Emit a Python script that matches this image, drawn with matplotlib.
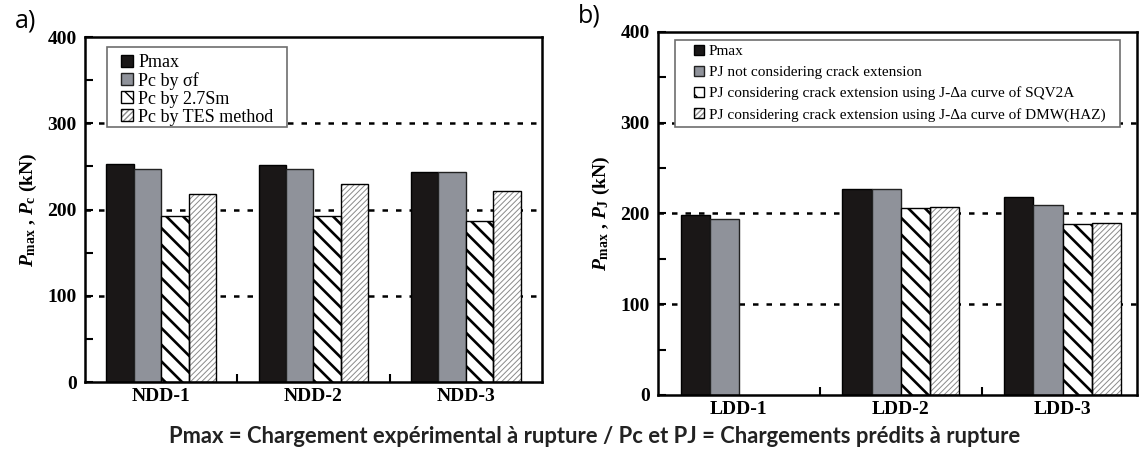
import numpy as np
import matplotlib
matplotlib.use('Agg')
from matplotlib import pyplot as plt
from matplotlib.patches import Rectangle
from matplotlib.legend_handler import HandlerTuple

plt.rcParams['font.family'] = 'Liberation Serif'
plt.rcParams['mathtext.fontset'] = 'custom'
plt.rcParams['mathtext.rm'] = 'Liberation Serif:bold'
plt.rcParams['mathtext.it'] = 'Liberation Serif:italic:bold'
plt.rcParams['mathtext.bf'] = 'Liberation Serif:bold'

# data (kN)
ndd_names = ['NDD-1', 'NDD-2', 'NDD-3']
ndd_pmax = [253, 252, 243]
ndd_pc_sf = [247, 247, 244]
ndd_pc_27sm = [192, 192, 187]
ndd_pc_tes = [218, 230, 222]
ndd_labels = ['Pmax', 'Pc by σf', 'Pc by 2.7Sm', 'Pc by TES method']

ldd_names = ['LDD-1', 'LDD-2', 'LDD-3']
ldd_pmax = [198, 227, 218]
ldd_pj_not = [194, 227, 209]
ldd_pj_sqv2a = [np.nan, 206, 188]
ldd_pj_dmw = [np.nan, 207, 190]
ldd_labels = ['Pmax', 'PJ not considering crack extension',
              'PJ considering crack extension using J-Δa curve of SQV2A',
              'PJ considering crack extension using J-Δa curve of DMW(HAZ)']

yticks = [0, 100, 200, 300, 400]

W = 0.18
BLACK = '#1a1717'
GRAY = '#8f929a'


def hatched(ax, x, h, hatch, color, lw):
    b = ax.bar(x, h, W, color='white', edgecolor=color, linewidth=0, hatch=hatch, zorder=2)
    for p in b:
        try:
            p.set_hatch_linewidth(lw)
        except AttributeError:
            pass
    o = ax.bar(x, h, W, color='none', edgecolor='black', linewidth=1.0, zorder=3)
    return b, o


def panel(ax, names, s1, s2, s3, s4, labels, xmax, ylab, box, legkw):
    x = np.arange(len(names))
    for g in [100, 200, 300]:
        ax.axhline(g, color='black', lw=1.8, ls=(0, (2.2, 3.2)), zorder=0)
    h1 = ax.bar(x - 1.5 * W, s1, W, color=BLACK, edgecolor='black', lw=1.0, zorder=2)
    h2 = ax.bar(x - 0.5 * W, s2, W, color=GRAY, edgecolor='#222222', lw=1.0, zorder=2)
    h3 = hatched(ax, x + 0.5 * W, s3, '\\\\', 'black', 1.9)
    h4 = hatched(ax, x + 1.5 * W, s4, '//////', '#8a8a8a', 0.7)
    ax.set_xlim(-0.5, xmax)
    ax.set_ylim(0, 400)
    ax.set_yticks(yticks)
    ax.set_yticks(np.arange(50, 400, 100), minor=True)
    ax.set_xticks(x)
    ax.set_xticklabels(names, fontsize=14, fontweight='bold')
    ax.set_xticks([0.5, 1.5], minor=True)
    ax.set_yticklabels([str(v) for v in yticks], fontsize=14, fontweight='bold')
    ax.tick_params(axis='y', which='both', direction='in', length=6, width=1.5, pad=6)
    ax.tick_params(axis='x', which='major', length=0, pad=4)
    ax.tick_params(axis='x', which='minor', direction='in', length=6, width=1.5)
    for s in ax.spines.values():
        s.set_linewidth(1.8)
    ax.set_ylabel(ylab, fontsize=14, fontweight='bold', labelpad=6)
    # legend frame drawn by hand, legend itself without frame
    fr = Rectangle((box[0], box[1]), box[2], box[3], transform=ax.transAxes,
                   facecolor='white', edgecolor='#6e6e6e', lw=1.2, zorder=4)
    ax.add_patch(fr)
    leg = ax.legend([h1, h2, h3, h4], labels, loc='upper left',
                    handler_map={tuple: HandlerTuple(ndivide=1)},
                    frameon=False, borderpad=0, borderaxespad=0,
                    handlelength=0.65, handleheight=0.65, handletextpad=0.3,
                    **legkw)
    leg.set_zorder(5)
    return leg


fig = plt.figure(figsize=(11.39, 4.57), dpi=100)
ax1 = fig.add_axes([0.0746, 0.1641, 0.4012, 0.7549])
ax2 = fig.add_axes([0.5777, 0.1357, 0.4205, 0.7943])


def box1(x0, y0, x1, y1):
    return ((x0 - 85) / 457, (382 - y1) / 345, (x1 - x0) / 457, (y1 - y0) / 345)


def box2(x0, y0, x1, y1):
    return ((x0 - 658) / 479, (395 - y1) / 363, (x1 - x0) / 479, (y1 - y0) / 363)


panel(ax1, ndd_names, ndd_pmax, ndd_pc_sf, ndd_pc_27sm, ndd_pc_tes, ndd_labels, 2.5,
      r'$P_{\mathrm{max}}$ , $P_{\mathrm{c}}$ (kN)', box1(107, 47, 287, 127),
      dict(bbox_to_anchor=((121 - 85) / 457, (382 - 54) / 345), fontsize=13,
           labelspacing=0.05))
panel(ax2, ldd_names, ldd_pmax, ldd_pj_not, ldd_pj_sqv2a, ldd_pj_dmw, ldd_labels, 2.46,
      r'$P_{\mathrm{max}}$ , $P_{\mathrm{J}}$ (kN)', box2(675, 40, 1120, 127),
      dict(bbox_to_anchor=((694 - 658) / 479, (395 - 45) / 363), fontsize=11,
           labelspacing=0.48))

fig.text(0.013, 0.955, 'a)', fontsize=18, family='Open Sans', va='center')
fig.text(0.507, 0.965, 'b)', fontsize=18, family='Open Sans', va='center')
fig.text(0.522, 0.044,
         'Pmax = Chargement expérimental à rupture / Pc et PJ = Chargements prédits à rupture',
         ha='center', va='center', fontsize=15.8, fontweight='bold', family='Lato',
         color='#222222')

fig.savefig('out.png', dpi=100)
